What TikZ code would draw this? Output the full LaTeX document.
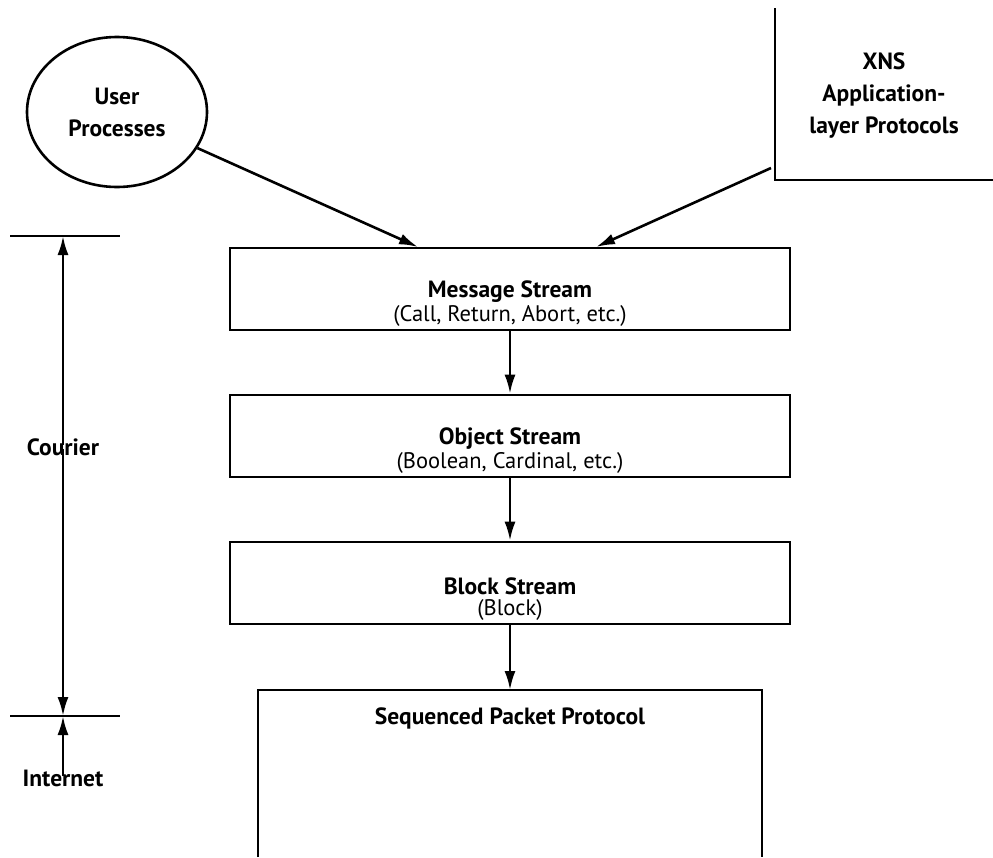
\documentclass[tikz,border=0pt]{standalone}
\usepackage{fontspec}
\setmainfont{PT Sans}
\usetikzlibrary{arrows.meta,shapes.geometric}
\begin{document}
\begin{tikzpicture}[x=1pt,y=-1pt, line width=2.6pt,
  arr/.style={-{Latex[length=19pt,width=11pt]}},
  lbl/.style={font=\fontsize{23.5}{32}\selectfont\bfseries, align=center, inner sep=0pt},
  sub/.style={font=\fontsize{22.5}{27}\selectfont, align=center, inner sep=0pt},
  layerbox/.style={draw, rectangle, minimum width=560pt, minimum height=82pt, inner sep=0pt}]
\useasboundingbox (0,0) rectangle (993,857);
% user processes
\node[draw, ellipse, minimum width=180pt, minimum height=150pt, lbl] (user) at (117,112) {User\\Processes};
% XNS box (partly outside)
\coordinate (xtop) at (775,8);
\coordinate (xcorner) at (775,180);
\coordinate (xright) at (993,180);
\draw (xtop) -- (xcorner) -- (xright);
\node[lbl] (xns) at (884,96) {XNS\\Application-\\layer Protocols};
\coordinate (xnsout) at (771,168);
% layer boxes
\node[layerbox] (msg) at (510,289) {};
\node[lbl] (msgt) at (510,292) {Message Stream};
\node[sub] (msgs) at (510,316) {(Call, Return, Abort, etc.)};
\node[layerbox] (obj) at (510,436) {};
\node[lbl] (objt) at (510,439) {Object Stream};
\node[sub] (objs) at (510,463) {(Boolean, Cardinal, etc.)};
\node[layerbox] (blk) at (510,583) {};
\node[lbl] (blkt) at (510,586) {Block Stream};
\node[sub] (blks) at (510,610) {(Block)};
% SPP box, open at bottom
\coordinate (sppbl) at (258,857);
\coordinate (spptl) at (258,690);
\coordinate (spptr) at (762,690);
\coordinate (sppbr) at (762,857);
\draw (sppbl) -- (spptl) -- (spptr) -- (sppbr);
\node[lbl] (sppt) at (510,718) {Sequenced Packet Protocol};
\coordinate (sppin) at (510,690);
% arrows
\coordinate (in1) at (418,247);
\coordinate (in2) at (596,247);
\draw[arr] (user) -- (in1);
\draw[arr] (xnsout) -- (in2);
\draw[arr] (msg.south) -- (obj.north);
\draw[arr] (obj.south) -- (blk.north);
\draw[arr] (blk.south) -- (sppin);
% left annotation
\coordinate (t1) at (10,236);
\coordinate (t2) at (120,236);
\coordinate (b1) at (10,716);
\coordinate (b2) at (120,716);
\draw (t1) -- (t2);
\draw (b1) -- (b2);
\coordinate (tmid) at (63,236);
\coordinate (bmid) at (63,716);
\node[lbl] (cour) at (63,447) {Courier};
\draw[arr] ([yshift=-8pt]cour.north) -- (tmid);
\draw[arr] ([yshift=8pt]cour.south) -- (bmid);
\node[lbl] (inet) at (63,778) {Internet};
\draw[arr] ([yshift=-8pt]inet.north) -- (bmid);
\end{tikzpicture}
\end{document}
